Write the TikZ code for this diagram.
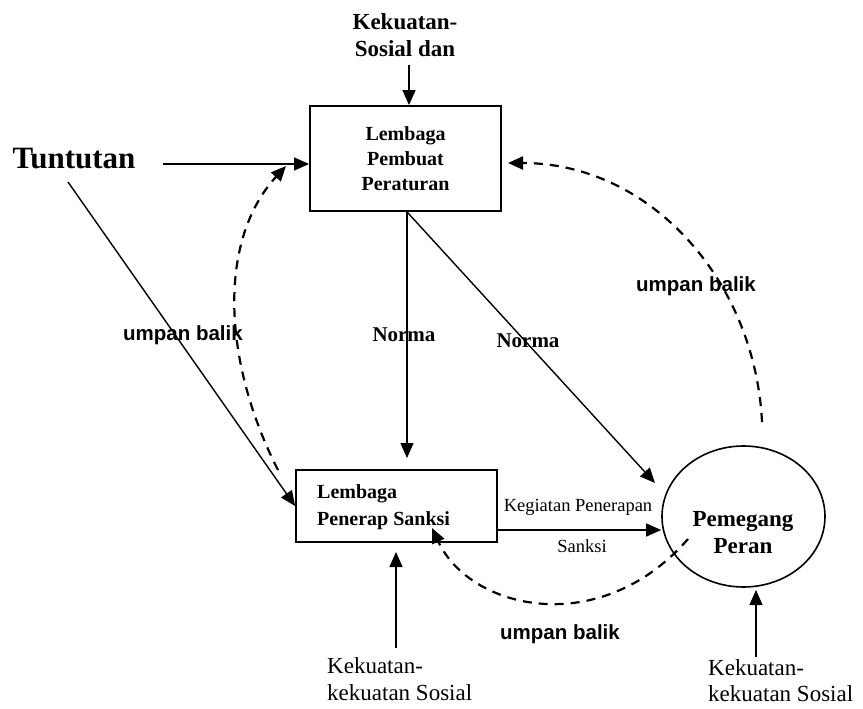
\documentclass[tikz,border=0pt]{standalone}
\usepackage{fontspec}
\setmainfont{Liberation Serif}
\newfontfamily\arialf{Liberation Sans}
\usetikzlibrary{arrows.meta,shapes.geometric}
\begin{document}
\begin{tikzpicture}[x=1pt,y=-1pt,
  arr/.style={line width=1.4pt,-{Triangle[length=15pt,width=13pt]}},
  darr/.style={line width=2.2pt,dash pattern=on 9pt off 7pt,-{Triangle[length=15pt,width=13pt]}},
  boxst/.style={draw,line width=1.8pt,rectangle,inner sep=0pt},
  lbl/.style={inner sep=0pt},
  bsf/.style={font=\bfseries\fontsize{20}{25}\selectfont},
  fbk/.style={lbl,font=\arialf\bfseries\fontsize{20.5}{24}\selectfont},
  nrm/.style={lbl,font=\bfseries\fontsize{21}{25}\selectfont}
]
\useasboundingbox (0,0) rectangle (863,709);

% main nodes
\node[boxst,bsf,align=center,minimum width=191pt,minimum height=105pt] (top) at (405.5,158.5) {Lembaga\\Pembuat\\Peraturan};
\node[boxst,minimum width=201pt,minimum height=72pt] (low) at (396.5,506) {};
\node[lbl,anchor=west,align=left,font=\bfseries\fontsize{20}{26.5}\selectfont] (lowtxt) at (317,507) {Lembaga\\Penerap Sanksi};
\node[draw,ellipse,line width=1.6pt,minimum width=163pt,minimum height=141pt,inner sep=0pt] (pem) at (743.5,516.5) {};
\node[lbl,align=center,font=\bfseries\fontsize{23}{27}\selectfont] (pemtxt) at (743,533) {Pemegang\\Peran};

% labels
\node[lbl,font=\bfseries\fontsize{31}{36}\selectfont] (tunt) at (74,158.5) {Tuntutan};
\node[lbl,align=center,font=\bfseries\fontsize{23}{27}\selectfont] (ksd) at (405,35) {Kekuatan-\\Sosial dan};
\node[nrm] (norma1) at (404,335) {Norma};
\node[nrm] (norma2) at (528,341) {Norma};
\node[fbk] (ub1) at (183,335) {umpan balik};
\node[fbk] (ub2) at (696,286) {umpan balik};
\node[fbk] (ub3) at (560,634) {umpan balik};
\node[lbl,font=\fontsize{18.5}{22}\selectfont] (keg) at (578,507) {Kegiatan Penerapan};
\node[lbl,font=\fontsize{18.5}{22}\selectfont] (sanksi) at (582,546) {Sanksi};
\node[lbl,anchor=west,align=left,font=\fontsize{23}{27}\selectfont] (kk1) at (327,679) {Kekuatan-\\kekuatan Sosial};
\node[lbl,anchor=west,align=left,font=\fontsize{23}{26}\selectfont] (kk2) at (708,681) {Kekuatan-\\kekuatan Sosial};

% coordinates
\coordinate (kt) at (409,65);
\coordinate (t1) at (163,164);
\coordinate (t2) at (68,182);
\coordinate (n1) at (407,458);
\coordinate (n2) at (655,483);
\coordinate (h1) at (497,530);
\coordinate (b1) at (396,648);
\coordinate (b1e) at (396,552);
\coordinate (b2) at (756,657);
\coordinate (b2e) at (756,590);
\coordinate (fa) at (278,470);
\coordinate (fae) at (286,166);
\coordinate (fb) at (762,422);
\coordinate (fbe) at (508,163);
\coordinate (fc) at (688,539);
\coordinate (fce) at (432,528);

% solid connectors
\draw[arr] (kt) -- (kt |- top.north);
\draw[arr] (t1) -- (t1 -| top.west);
\draw[arr] (t2) -- (low.west);
\draw[arr] (n1 |- top.south) -- (n1);
\draw[arr] (n1 |- top.south) -- (n2);
\draw[arr] (h1) -- (h1 -| pem.west);
\draw[arr] (b1) -- (b1e);
\draw[arr] (b2) -- (b2e);

% dashed feedback
\draw[darr] (fa) .. controls (222,360) and (218,240) .. (fae);
\draw[darr] (fb) .. controls (755,280) and (650,163) .. (fbe);
\draw[darr] (fc) .. controls (600,640) and (470,610) .. (fce);
\end{tikzpicture}
\end{document}
